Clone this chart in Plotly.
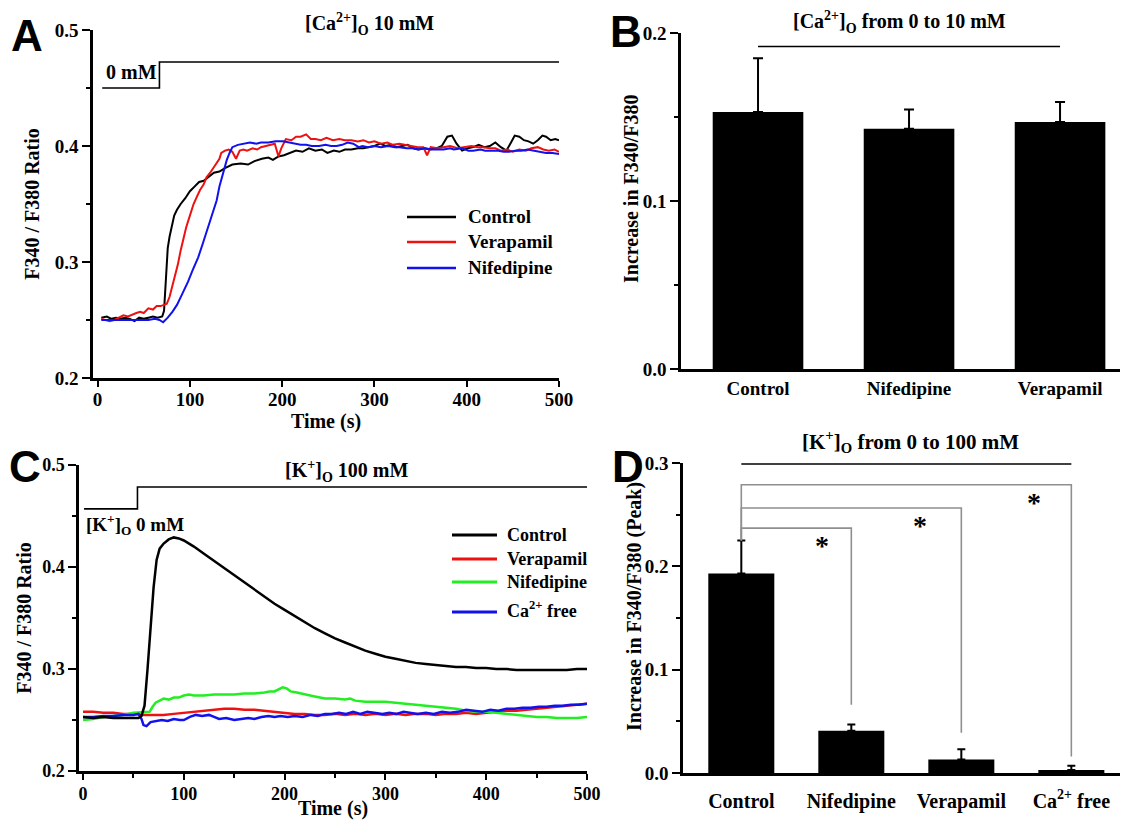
import plotly.graph_objects as go

# The page puts the figure 8 px in from the top-left corner, so the figure is
# made 8 px smaller and reference pixel positions are shifted accordingly.
OFF = 8
W, H = 1128 - OFF, 820 - OFF
def px(x): return (x - OFF) / W
def py(y): return 1 - (y - OFF) / H

SERIF = "Liberation Serif, Times New Roman, serif"
SANS = "Liberation Sans, Arial, sans-serif"

# ---------------- Panel A data ----------------
a_ctrl_t = [4, 10, 15, 20, 25, 30, 35, 40, 45, 50, 55, 60, 65, 70, 72, 74, 76, 78, 80, 83, 86, 90, 95, 100,
            105, 110, 115, 120, 126, 132, 138, 146, 155, 163, 170, 178, 185, 190, 196, 202, 209, 215, 222,
            229, 236, 243, 249, 256, 262, 268, 275, 282, 288, 294, 300, 306, 312, 318, 324, 330, 336, 342,
            348, 354, 360, 367, 373, 379, 384, 389, 395, 401, 407, 413, 419, 425, 431, 437, 443, 448, 452,
            457, 462, 467, 472, 477, 482, 486, 491, 496, 500]
a_ctrl_v = [0.252, 0.253, 0.251, 0.252, 0.251, 0.252, 0.251, 0.249, 0.252, 0.251, 0.252, 0.253, 0.252, 0.253,
            0.258, 0.285, 0.312, 0.322, 0.330, 0.340, 0.345, 0.350, 0.355, 0.361, 0.365, 0.369, 0.370, 0.373,
            0.377, 0.378, 0.381, 0.384, 0.385, 0.384, 0.387, 0.389, 0.390, 0.388, 0.391, 0.392, 0.394, 0.396,
            0.395, 0.398, 0.396, 0.397, 0.394, 0.396, 0.395, 0.397, 0.397, 0.398, 0.398, 0.399, 0.400, 0.402,
            0.400, 0.401, 0.399, 0.400, 0.401, 0.398, 0.397, 0.398, 0.397, 0.398, 0.400, 0.408, 0.409, 0.402,
            0.396, 0.398, 0.399, 0.401, 0.399, 0.400, 0.403, 0.399, 0.396, 0.403, 0.409, 0.408, 0.405, 0.404,
            0.402, 0.405, 0.409, 0.408, 0.405, 0.406, 0.405]

a_vera_t = [4, 9, 13, 18, 23, 28, 33, 38, 42, 46, 50, 55, 60, 64, 68, 72, 75, 78, 81, 84, 87, 90, 93, 96, 100,
            104, 108, 111, 115, 118, 122, 126, 129, 132, 134, 138, 142, 146, 150, 154, 158, 162, 168, 173,
            177, 182, 187, 192, 196, 199, 204, 210, 215, 220, 226, 231, 236, 242, 248, 255, 262, 268, 275,
            282, 288, 294, 300, 307, 314, 320, 327, 334, 340, 347, 353, 357, 361, 368, 375, 382, 390, 398,
            405, 412, 418, 425, 431, 437, 444, 450, 457, 464, 470, 477, 483, 489, 495, 500]
a_vera_v = [0.251, 0.250, 0.249, 0.250, 0.252, 0.254, 0.253, 0.255, 0.256, 0.257, 0.256, 0.260, 0.259, 0.262,
            0.262, 0.263, 0.264, 0.270, 0.279, 0.287, 0.298, 0.310, 0.320, 0.330, 0.340, 0.350, 0.357, 0.362,
            0.367, 0.373, 0.377, 0.382, 0.385, 0.389, 0.394, 0.396, 0.397, 0.395, 0.389, 0.396, 0.397, 0.396,
            0.398, 0.397, 0.399, 0.400, 0.401, 0.402, 0.391, 0.398, 0.406, 0.405, 0.408, 0.408, 0.410, 0.406,
            0.406, 0.405, 0.407, 0.405, 0.406, 0.405, 0.405, 0.404, 0.405, 0.403, 0.404, 0.402, 0.403, 0.401,
            0.402, 0.401, 0.400, 0.399, 0.399, 0.392, 0.399, 0.398, 0.399, 0.400, 0.398, 0.399, 0.400, 0.399,
            0.399, 0.398, 0.398, 0.396, 0.397, 0.395, 0.397, 0.396, 0.398, 0.399, 0.397, 0.396, 0.397, 0.395]

a_nife_t = [4, 15, 25, 35, 45, 55, 62, 67, 71, 76, 81, 86, 92, 98, 103, 109, 114, 119, 125, 129, 132, 136,
            140, 143, 146, 152, 158, 165, 172, 177, 185, 193, 201, 208, 214, 220, 226, 232, 240, 247, 253,
            259, 265, 271, 277, 283, 287, 293, 300, 307, 315, 322, 327, 335, 342, 347, 355, 362, 367, 375,
            382, 386, 395, 402, 407, 415, 420, 426, 433, 440, 446, 453, 459, 466, 473, 480, 486, 493, 500]
a_nife_v = [0.250, 0.250, 0.250, 0.250, 0.250, 0.250, 0.251, 0.250, 0.248, 0.252, 0.257, 0.263, 0.273, 0.283,
            0.293, 0.304, 0.316, 0.328, 0.342, 0.353, 0.365, 0.377, 0.388, 0.394, 0.399, 0.401, 0.402, 0.403,
            0.402, 0.403, 0.403, 0.404, 0.404, 0.403, 0.402, 0.401, 0.401, 0.400, 0.400, 0.401, 0.400, 0.400,
            0.401, 0.403, 0.402, 0.399, 0.400, 0.399, 0.400, 0.399, 0.400, 0.399, 0.399, 0.398, 0.398, 0.397,
            0.398, 0.397, 0.397, 0.397, 0.398, 0.397, 0.398, 0.396, 0.396, 0.397, 0.396, 0.396, 0.396, 0.395,
            0.395, 0.396, 0.396, 0.397, 0.396, 0.395, 0.394, 0.394, 0.393]

a_step_t = [5, 67, 500]
a_step_v = [0.45, 0.4724, 0.4724]

# ---------------- Panel B data ----------------
b_cats = ["Control", "Nifedipine", "Verapamil"]
b_vals = [0.153, 0.143, 0.147]
b_errs = [0.032, 0.0115, 0.012]
b_line_y = 0.192

# ---------------- Panel C data ----------------
c_ctrl_t = [0, 10, 20, 30, 40, 50, 55, 58, 61, 64, 67, 70, 73, 76, 80, 85, 90, 95, 100, 110, 120, 130, 140,
            150, 160, 170, 180, 190, 200, 210, 220, 230, 240, 250, 260, 270, 280, 290, 300, 310, 320, 330,
            340, 350, 360, 370, 380, 390, 400, 410, 420, 430, 440, 450, 460, 470, 480, 490, 500]
c_ctrl_v = [0.253, 0.252, 0.253, 0.252, 0.252, 0.252, 0.252, 0.254, 0.264, 0.300, 0.345, 0.380, 0.407, 0.418,
            0.423, 0.427, 0.429, 0.428, 0.426, 0.420, 0.413, 0.406, 0.399, 0.392, 0.385, 0.378, 0.371, 0.364,
            0.358, 0.352, 0.346, 0.340, 0.335, 0.330, 0.326, 0.322, 0.318, 0.315, 0.312, 0.310, 0.308, 0.306,
            0.305, 0.304, 0.303, 0.302, 0.302, 0.301, 0.301, 0.300, 0.300, 0.299, 0.299, 0.299, 0.299, 0.299,
            0.299, 0.300, 0.300]

c_vera_t = [0, 10, 20, 30, 40, 50, 60, 70, 80, 90, 100, 110, 120, 130, 140, 150, 160, 170, 180, 190, 200, 210,
            220, 230, 240, 250, 260, 270, 280, 290, 300, 310, 320, 330, 340, 350, 360, 370, 380, 390, 400, 410,
            420, 430, 440, 450, 460, 470, 480, 490, 500]
c_vera_v = [0.258, 0.258, 0.257, 0.257, 0.256, 0.256, 0.255, 0.255, 0.255, 0.256, 0.257, 0.258, 0.259, 0.260,
            0.261, 0.261, 0.260, 0.260, 0.259, 0.258, 0.257, 0.256, 0.256, 0.255, 0.255, 0.256, 0.255, 0.256,
            0.255, 0.256, 0.255, 0.256, 0.255, 0.256, 0.256, 0.255, 0.256, 0.256, 0.257, 0.256, 0.257, 0.258,
            0.259, 0.259, 0.260, 0.261, 0.262, 0.263, 0.264, 0.265, 0.266]

c_nife_t = [0, 10, 20, 30, 40, 50, 60, 66, 69, 72, 76, 80, 85, 90, 95, 100, 105, 110, 120, 130, 140, 150, 160,
            170, 180, 185, 190, 195, 198, 202, 206, 212, 220, 230, 240, 250, 260, 265, 270, 280, 290, 300, 310,
            320, 330, 340, 350, 360, 370, 380, 390, 400, 410, 420, 430, 440, 450, 460, 470, 480, 490, 500]
c_nife_v = [0.250, 0.251, 0.253, 0.254, 0.255, 0.257, 0.258, 0.258, 0.263, 0.267, 0.269, 0.271, 0.270, 0.272,
            0.272, 0.274, 0.275, 0.274, 0.274, 0.275, 0.275, 0.275, 0.276, 0.276, 0.277, 0.278, 0.278, 0.281,
            0.282, 0.281, 0.278, 0.277, 0.275, 0.273, 0.271, 0.271, 0.270, 0.271, 0.269, 0.268, 0.268, 0.268,
            0.267, 0.266, 0.265, 0.264, 0.263, 0.262, 0.261, 0.259, 0.258, 0.258, 0.257, 0.256, 0.255, 0.254,
            0.253, 0.253, 0.252, 0.252, 0.252, 0.253]

c_free_t = [0, 10, 20, 30, 40, 50, 55, 58, 60, 63, 67, 72, 78, 84, 90, 96, 100, 106, 112, 118, 125, 130, 135,
            142, 150, 157, 164, 170, 177, 184, 190, 196, 203, 210, 218, 226, 233, 240, 247, 254, 261, 268, 275,
            282, 290, 297, 304, 311, 318, 325, 332, 340, 348, 356, 364, 372, 380, 388, 396, 404, 412, 420, 428,
            436, 444, 452, 460, 468, 476, 484, 492, 500]
c_free_v = [0.253, 0.253, 0.254, 0.254, 0.255, 0.255, 0.256, 0.251, 0.245, 0.244, 0.248, 0.249, 0.250, 0.249,
            0.251, 0.250, 0.250, 0.253, 0.255, 0.254, 0.255, 0.253, 0.251, 0.252, 0.250, 0.251, 0.252, 0.251,
            0.253, 0.254, 0.253, 0.254, 0.253, 0.254, 0.253, 0.255, 0.254, 0.256, 0.256, 0.257, 0.256, 0.258,
            0.256, 0.258, 0.257, 0.256, 0.257, 0.256, 0.258, 0.257, 0.256, 0.257, 0.256, 0.258, 0.257, 0.258,
            0.260, 0.259, 0.258, 0.260, 0.259, 0.261, 0.261, 0.262, 0.262, 0.263, 0.263, 0.264, 0.264, 0.265,
            0.265, 0.266]

c_step_t = [1, 54, 500]
c_step_v = [0.457, 0.4784, 0.4784]

# ---------------- Panel D data ----------------
d_cats = ["Control", "Nifedipine", "Verapamil", "Ca<sup>2+</sup> free"]
d_vals = [0.193, 0.041, 0.013, 0.003]
d_errs = [0.032, 0.006, 0.010, 0.004]
d_line_y = 0.299
d_bracket_level = [0.237, 0.2565, 0.279]
d_bracket_end = [0.066, 0.039, 0.016]
d_star_x = [0.73, 1.62, 2.66]
d_star_y = [0.220, 0.240, 0.262]

BLACK = "#000000"
RED = "#ee1111"
BLUE = "#1111ee"
GREEN = "#22ee22"

fig = go.Figure()

def line(x, y, color, width, xa, ya, shape="linear"):
    fig.add_trace(go.Scatter(x=x, y=y, mode="lines", line=dict(color=color, width=width, shape=shape),
                             xaxis=xa, yaxis=ya, showlegend=False, hoverinfo="skip"))

# Panel A
line(a_step_t, a_step_v, BLACK, 1.6, "x", "y", "hv")
line(a_ctrl_t, a_ctrl_v, BLACK, 2, "x", "y")
line(a_vera_t, a_vera_v, RED, 2, "x", "y")
line(a_nife_t, a_nife_v, BLUE, 2, "x", "y")

# Panel B
fig.add_trace(go.Bar(x=list(range(len(b_cats))), y=b_vals, width=0.6, marker=dict(color=BLACK, line=dict(width=0)),
                     error_y=dict(type="data", array=b_errs, arrayminus=[0] * len(b_errs), symmetric=False,
                                  color=BLACK, thickness=2, width=5),
                     xaxis="x2", yaxis="y2", showlegend=False))
line([0, len(b_cats) - 1], [b_line_y, b_line_y], BLACK, 1.5, "x2", "y2")

# Panel C
line(c_step_t, c_step_v, BLACK, 1.6, "x3", "y3", "hv")
line(c_vera_t, c_vera_v, RED, 2.5, "x3", "y3")
line(c_nife_t, c_nife_v, GREEN, 2.5, "x3", "y3")
line(c_free_t, c_free_v, BLUE, 2.5, "x3", "y3")
line(c_ctrl_t, c_ctrl_v, BLACK, 2.5, "x3", "y3")

# Panel D
fig.add_trace(go.Bar(x=list(range(len(d_cats))), y=d_vals, width=0.6, marker=dict(color=BLACK, line=dict(width=0)),
                     error_y=dict(type="data", array=d_errs, arrayminus=[0] * len(d_errs), symmetric=False,
                                  color=BLACK, thickness=2, width=4),
                     xaxis="x4", yaxis="y4", showlegend=False))
line([0, len(d_cats) - 1], [d_line_y, d_line_y], BLACK, 1.5, "x4", "y4")
ctrl_top = d_vals[0] + d_errs[0]
for k, (lvl, end) in enumerate(zip(d_bracket_level, d_bracket_end), start=1):
    line([0, 0, k, k], [ctrl_top, lvl, lvl, end], "#8f8f8f", 1.6, "x4", "y4")

tickfont = lambda s: dict(family=SERIF, size=s, color=BLACK, weight="bold")
titlefont = lambda s: dict(family=SERIF, size=s, color=BLACK, weight="bold")

def xnum(domain, rng, anchor, minor, fs, title, standoff, lstand=0):
    d = dict(domain=domain, range=rng, anchor=anchor, showline=True, linecolor=BLACK, linewidth=2.5,
             ticks="outside", ticklen=6, tickwidth=2, tickcolor=BLACK, tickmode="linear", tick0=0, dtick=100,
             showgrid=False, zeroline=False, tickfont=tickfont(fs), automargin=False, ticklabelstandoff=lstand,
             title=dict(text=title, font=titlefont(20), standoff=standoff))
    if minor:
        d["minor"] = dict(ticks="outside", ticklen=4, tickwidth=2, tickcolor=BLACK, dtick=50, showgrid=False)
    return d

def ynum(domain, rng, anchor, dtick, fs, title=None, standoff=0, fmt=".1f"):
    d = dict(domain=domain, range=rng, anchor=anchor, showline=True, linecolor=BLACK, linewidth=2.5,
             ticks="outside", ticklen=8, tickwidth=2, tickcolor=BLACK, tickmode="linear", tick0=0, dtick=dtick,
             tickformat=fmt, showgrid=False, zeroline=False, tickfont=tickfont(fs), automargin=False,
             minor=dict(ticks="outside", ticklen=4, tickwidth=2, tickcolor=BLACK, dtick=dtick / 2, showgrid=False))
    if title:
        d["title"] = dict(text=title, font=titlefont(20), standoff=standoff)
    return d

def xcat(domain, rng, anchor, cats, fs, lstand):
    return dict(domain=domain, range=rng, anchor=anchor, showline=True, linecolor=BLACK, linewidth=2.5,
                ticks="", tickmode="array", tickvals=list(range(len(cats))), ticktext=cats, automargin=False,
                showgrid=False, zeroline=False, tickfont=tickfont(fs), ticklabelstandoff=lstand)

fig.update_layout(
    template="none",
    width=W, height=H, margin=dict(l=0, r=0, t=0, b=0, pad=0), autosize=False,
    paper_bgcolor="white", plot_bgcolor="white", showlegend=False,
    xaxis=xnum([px(93), px(559)], [-5, 500], "y", False, 19, "Time (s)", 0, -4),
    yaxis=ynum([py(378), py(30)], [0.2, 0.5], "x", 0.1, 19, "F340 / F380 Ratio", 10),
    xaxis2=xcat([px(681), 1.0], [-0.51, 2.45], "y2", b_cats, 19, 0),
    yaxis2=ynum([py(369), py(33)], [0, 0.2], "x2", 0.1, 19),
    xaxis3=xnum([px(79), px(587)], [-4, 500], "y3", True, 18, "Time (s)", 3, -1),
    yaxis3=ynum([py(771), py(465)], [0.2, 0.5], "x3", 0.1, 18, "F340 / F380 Ratio", 6),
    xaxis4=xcat([px(683), 1.0], [-0.53, 3.515], "y4", d_cats, 20, 8),
    yaxis4=ynum([py(773), py(463)], [0, 0.3], "x4", 0.1, 19),
)

ann = []
def text(x, y, s, size, family=SERIF, xanchor="center", yanchor="middle", xref="paper", yref="paper", angle=0):
    ann.append(dict(x=x, y=y, text=s, showarrow=False, xref=xref, yref=yref, xanchor=xanchor, yanchor=yanchor,
                    textangle=angle, font=dict(family=family, size=size, color=BLACK, weight="bold")))

# Panel letters
text(px(27), py(36), "A", 44, SANS)
text(px(626), py(31), "B", 44, SANS)
text(px(25), py(466), "C", 44, SANS)
text(px(628), py(466), "D", 44, SANS)

# y-axis titles of the bar panels
text(px(631), py(189), "Increase in F340/F380", 20, angle=-90)
text(px(634), py(607), "Increase in F340/F380 (Peak)", 20, angle=-90)

# Panel A texts
text(px(369), py(24), "[Ca<sup>2+</sup>]<sub>O</sub> 10 mM", 20)
text(px(104), py(72), "0 mM", 20, xanchor="left")
# Panel B title
text(px(900), py(22), "[Ca<sup>2+</sup>]<sub>O</sub> from 0 to 10 mM", 20)
# Panel C texts
text(px(346), py(471), "[K<sup>+</sup>]<sub>O</sub> 100 mM", 20)
text(px(84), py(524), "[K<sup>+</sup>]<sub>O</sub> 0 mM", 19, xanchor="left")
# Panel D title
text(px(910), py(442), "[K<sup>+</sup>]<sub>O</sub> from 0 to 100 mM", 21)
# asterisks
for sx, sy in zip(d_star_x, d_star_y):
    text(sx, sy, "*", 28, xref="x4", yref="y4")

# Manual legends
shapes = []
a_leg = [("Control", BLACK, 217), ("Verapamil", RED, 242), ("Nifedipine", BLUE, 268)]
for name, col, yy in a_leg:
    shapes.append(dict(type="line", xref="paper", yref="paper", x0=px(407), x1=px(456), y0=py(yy), y1=py(yy),
                       line=dict(color=col, width=2.5)))
    text(px(466), py(yy), name, 19, xanchor="left")

c_leg = [("Control", BLACK, 535), ("Verapamil", RED, 559), ("Nifedipine", GREEN, 582),
         ("Ca<sup>2+</sup> free", BLUE, 612)]
for name, col, yy in c_leg:
    shapes.append(dict(type="line", xref="paper", yref="paper", x0=px(452), x1=px(497), y0=py(yy), y1=py(yy),
                       line=dict(color=col, width=3)))
    text(px(505), py(yy - (3 if "sup" in name else 0)), name, 18, xanchor="left")

fig.update_layout(annotations=ann, shapes=shapes)
fig.write_html("out.html")
